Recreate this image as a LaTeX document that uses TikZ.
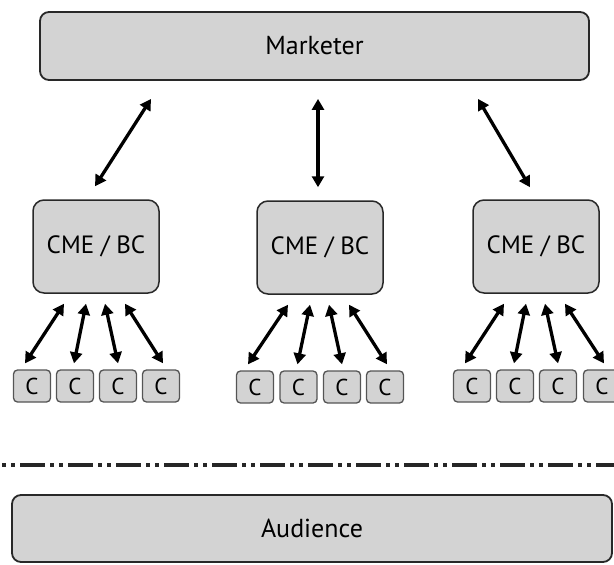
\documentclass[tikz,border=0pt]{standalone}
\usepackage{fontspec}
\setmainfont{PT Sans}
\usetikzlibrary{arrows.meta}

\definecolor{boxfill}{RGB}{211,211,211}
\definecolor{boxline}{RGB}{40,40,40}
\definecolor{cline}{RGB}{85,85,85}

\tikzset{
  bigbox/.style={draw=boxline, line width=1.8pt, fill=boxfill, rounded corners=9pt,
    font=\fontsize{26}{29}\selectfont, inner sep=0pt},
  cmebox/.style={draw=boxline, line width=1.5pt, fill=boxfill, rounded corners=11pt,
    minimum width=126pt, minimum height=93pt, inner sep=0pt,
    font=\fontsize{25}{28}\selectfont},
  cbox/.style={draw=cline, line width=1.3pt, fill=boxfill, rounded corners=4pt,
    minimum width=37pt, minimum height=32pt, inner sep=0pt,
    font=\fontsize{23}{25}\selectfont},
  link/.style={line width=3.3pt, black, {Triangle[length=11pt,width=12pt]}-{Triangle[length=11pt,width=12pt]}},
  divider/.style={line width=4pt, black!85,
    dash pattern=on 25pt off 5pt on 4pt off 5pt on 4pt off 5pt, dash phase=28pt}
}

\begin{document}
\begin{tikzpicture}[x=1pt,y=-1pt]
  \useasboundingbox (0,0) rectangle (614,565);

  % top and bottom bars
  \node[bigbox, minimum width=549pt, minimum height=68pt] (mk) at (314.5,46) {Marketer};
  \node[bigbox, minimum width=600pt, minimum height=67pt] (aud) at (312,528.5) {Audience};

  % middle tier
  \node[cmebox] (cme1) at (96,246.5) {CME / BC};
  \node[cmebox] (cme2) at (320,247.5) {CME / BC};
  \node[cmebox] (cme3) at (536,246.5) {CME / BC};

  % consumers
  \foreach \x [count=\i] in {32,75,118,161}   \node[cbox] (c1\i) at (\x,386) {C};
  \foreach \x [count=\i] in {255,298.5,342,385} \node[cbox] (c2\i) at (\x,387) {C};
  \foreach \x [count=\i] in {472,515,558,602} \node[cbox] (c3\i) at (\x,386) {C};

  % marketer <-> intermediaries
  \draw[link] ([xshift=-163.5pt,yshift=-18pt]mk.south) -- ([xshift=-1pt,yshift=13pt]cme1.north);
  \draw[link] ([xshift=3.5pt,yshift=-18pt]mk.south) -- ([xshift=-2pt,yshift=13pt]cme2.north);
  \draw[link] ([xshift=163.5pt,yshift=-18pt]mk.south) -- ([xshift=-6pt,yshift=12pt]cme3.north);

  % intermediaries <-> consumers
  \foreach \g in {1,2,3}{
    \foreach \t/\b [count=\i] in {-32/-7,-10/-1,9/0,29/2}{
      \draw[link] ([xshift=\t pt,yshift=-10pt]cme\g.south) -- ([xshift=\b pt,yshift=6pt]c\g\i.north);
    }
  }

  % separator line
  \coordinate (dl) at (0,465);
  \coordinate (dr) at (614,465);
  \draw[divider] (dl) -- (dr);
\end{tikzpicture}
\end{document}
